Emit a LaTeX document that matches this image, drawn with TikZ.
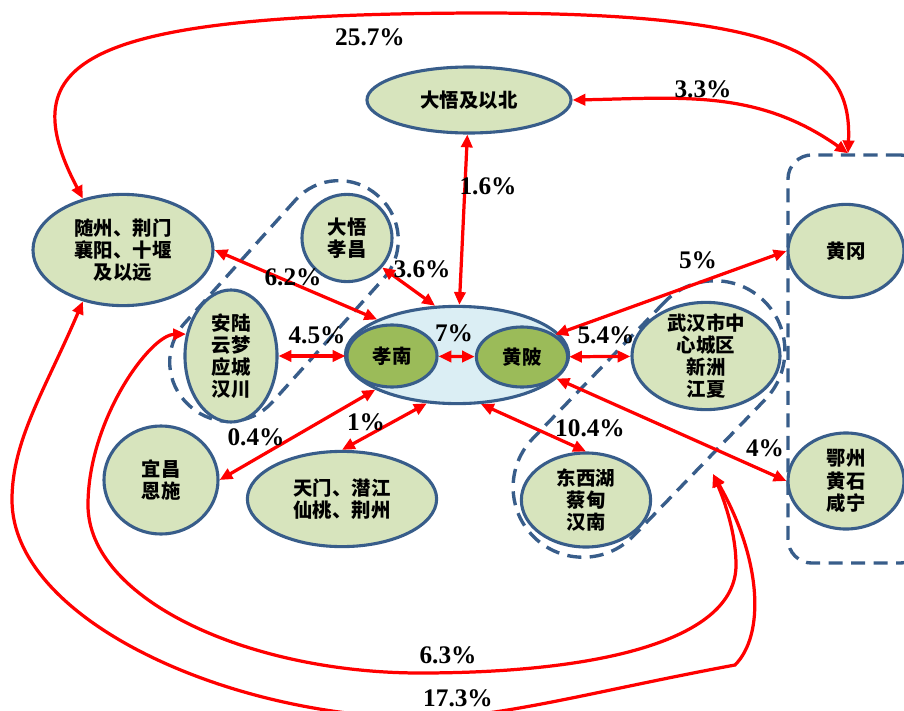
\documentclass[tikz,border=0pt]{standalone}
\usepackage{fontspec}
\setmainfont{Liberation Serif}
\newfontfamily\cjk{Noto Sans CJK SC}
\usetikzlibrary{shapes,arrows.meta}
\definecolor{rimblue}{RGB}{56,93,138}
\definecolor{leaf}{RGB}{215,228,189}
\definecolor{hubgreen}{RGB}{155,187,89}
\definecolor{sky}{RGB}{219,238,244}
\tikzstyle{line} = [draw, red, line width=2.3pt, {Triangle[length=3.2mm,width=2.8mm]}-{Triangle[length=3.2mm,width=2.8mm]}]
\tikzstyle{elli} = [draw=rimblue, line width=2.2pt, ellipse, fill=leaf, inner sep=0pt, align=center, font=\cjk\bfseries\fontsize{13.8}{15.8}\selectfont]
\tikzstyle{hub} = [elli, fill=hubgreen]
\tikzstyle{ring} = [elli, fill=sky]
\tikzstyle{region} = [draw=rimblue, line width=2.4pt, dash pattern=on 10pt off 6pt, rectangle]
\tikzstyle{pct} = [font=\bfseries\fontsize{18}{21}\selectfont]

\begin{document}
\begin{tikzpicture}[x=0.025cm, y=-0.025cm]
    \useasboundingbox (0,0) rectangle (904,711);
    % dashed groups
    \node [region, rounded corners=1.45cm, minimum width=7.05cm, minimum height=2.95cm, rotate=48] (grpw) at (284,301) {};
    \node [region, rounded corners=1.75cm, minimum width=8.24cm, minimum height=3.5cm, rotate=46] (grpe) at (649,419) {};
    \node [region, rounded corners=0.6cm, minimum width=3.4cm, minimum height=10.2cm] (grpr) at (856,359) {};
    % places
    \node [elli, minimum width=5.1cm, minimum height=1.65cm] (dwbei) at (469,100) {大悟及以北};
    \node [elli, minimum width=4.5cm, minimum height=2.78cm] (sz) at (123,250) {随州、荆门\\襄阳、十堰\\及以远};
    \node [elli, minimum width=2.25cm, minimum height=2.18cm] (dwxc) at (347,238) {大悟\\孝昌};
    \node [elli, minimum width=2.3cm, minimum height=3.3cm, inner ysep=-2pt] (al) at (231,356) {安陆\\云梦\\应城\\汉川};
    \node [ring, minimum width=5.58cm, minimum height=2.43cm] (core) at (457,355) {};
    \node [hub, minimum width=2.25cm, minimum height=1.55cm] (xn) at (392,356) {孝南};
    \node [hub, minimum width=2.28cm, minimum height=1.5cm] (hp) at (522,357) {黄陂};
    \node [elli, minimum width=3.7cm, minimum height=2.68cm, inner ysep=-5pt] (wh) at (706,356) {武汉市中\\心城区\\新洲\\江夏};
    \node [elli, minimum width=2.85cm, minimum height=2.7cm] (yc) at (161,480) {宜昌\\恩施};
    \node [elli, minimum width=4.73cm, minimum height=2.38cm] (tm) at (342,499) {天门、潜江\\仙桃、荆州};
    \node [elli, minimum width=3.23cm, minimum height=2.35cm] (dxh) at (586,500) {东西湖\\蔡甸\\汉南};
    \node [elli, minimum width=2.9cm, minimum height=2.33cm] (hg) at (846,251) {黄冈};
    \node [elli, minimum width=2.9cm, minimum height=2.4cm] (ez) at (846,481) {鄂州\\黄石\\咸宁};
    \coordinate (whtip) at (713,474);
    % flows
    \path [line] (sz.128) .. controls (10,60) and (80,14) .. (480,13) .. controls (800,13) and (852,60) .. ([xshift=-0.2cm]grpr.north);
    \path [line] (dwbei.east) .. controls (681,98) and (757,89) .. ([xshift=-0.2cm]grpr.north);
    \path [line] (dwbei) -- (core);
    \path [line] (sz.east) -- (core.156);
    \path [line] (dwxc.-40) -- (core.114);
    \path [line] (al) -- (xn);
    \path [line] (xn) -- (hp);
    \path [line] (hp) -- (wh);
    \path [line] (hg.west) -- (hp.34);
    \path [line] (hp.-32) -- (ez.west);
    \path [line] (core.-64) -- (dxh.north);
    \path [line] (core.-122) -- (tm.north);
    \path [line] (core.203) -- (yc.east);
    \path [line] (al.154) .. controls (150,335) and (88,420) .. (88,505) .. controls (88,600) and (250,673) .. (420,673) .. controls (600,673) and (736,640) .. (736,565) .. controls (736,530) and (722,495) .. (whtip);
    \path [line] (sz.232) .. controls (45,390) and (12,440) .. (12,500) .. controls (12,620) and (230,718) .. (425,718) .. controls (500,718) and (600,690) .. (735,665) .. controls (765,635) and (762,560) .. (whtip);
    % shares
    \node [pct] (p257) at (370,37) {25.7\%};
    \node [pct] (p33) at (703,89) {3.3\%};
    \node [pct] (p16) at (488,186) {1.6\%};
    \node [pct] (p62) at (293,277) {6.2\%};
    \node [pct] (p36) at (422,269) {3.6\%};
    \node [pct] (p45) at (317,335) {4.5\%};
    \node [pct] (p7) at (454,333) {7\%};
    \node [pct] (p54) at (606,335) {5.4\%};
    \node [pct] (p5) at (698,260) {5\%};
    \node [pct] (p4) at (765,448) {4\%};
    \node [pct] (p104) at (590,428) {10.4\%};
    \node [pct] (p1) at (366,422) {1\%};
    \node [pct] (p04) at (256,437) {0.4\%};
    \node [pct] (p63) at (448,655) {6.3\%};
    \node [pct] (p173) at (458,698) {17.3\%};
\end{tikzpicture}
\end{document}
